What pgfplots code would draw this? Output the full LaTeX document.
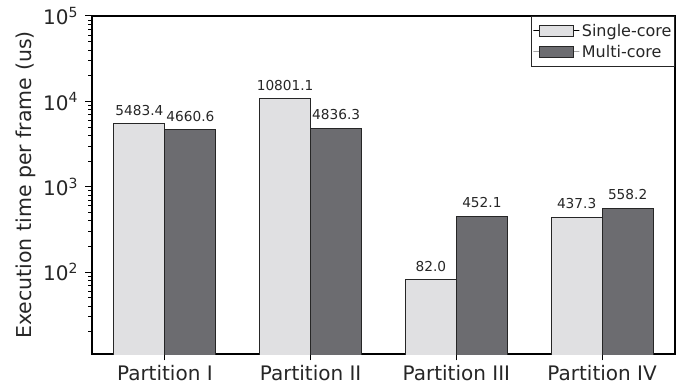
\documentclass[border=0pt]{standalone}
\usepackage{fontspec}
\setmainfont{DejaVu Sans}
\usepackage{pgfplots}
\pgfplotsset{compat=1.18}

\definecolor{singlec}{RGB}{224,224,226}
\definecolor{multic}{RGB}{108,108,112}
\definecolor{edgec}{RGB}{38,38,38}

\begin{document}
\begin{tikzpicture}
\useasboundingbox (-92pt,-35pt) rectangle (596pt,354pt);
\begin{axis}[
  at={(0,0)}, anchor=south west,
  scale only axis, width=583pt, height=338pt,
  ymode=log, log basis y=10,
  ymin=11, ymax=1e5,
  xmin=-0.5, xmax=3.5,
  xtick={0,1,2,3},
  xticklabels={Partition I,Partition II,Partition III,Partition IV},
  yticklabel={10\textsuperscript{\pgfmathparse{int(round(\tick))}\pgfmathresult}},
  tick pos=left, tick align=outside,
  major tick length=6.5pt, minor tick length=3.5pt,
  every major tick/.append style={line width=1pt, black},
  every minor tick/.append style={line width=0.8pt, black},
  axis line style={line width=1.3pt, black},
  ticklabel style={font=\fontsize{20}{24}\selectfont, text=black!85},
  yticklabel style={xshift=-4pt},
  xticklabel style={yshift=-1.5pt},
  ylabel={Execution time per frame (us)},
  ylabel style={font=\fontsize{20.5}{24}\selectfont, text=black!85},
  ybar, bar width=51pt,
  nodes near coords,
  point meta=explicit symbolic,
  every node near coord/.append style={font=\fontsize{13.7}{16}\selectfont, text=black!85, anchor=base, inner sep=0pt, yshift=8.5pt},
  legend cell align=left,
  legend style={at={(1,1)}, anchor=north east, draw=edgec, line width=1pt,
    font=\fontsize{16}{19}\selectfont, text=black!85,
    inner xsep=1pt, inner ysep=5.5pt, row sep=3.5pt},
]
\addlegendimage{legend image code/.code={\path (0pt,0pt) rectangle (46pt,0pt);
  \draw[fill=singlec,draw=edgec,line width=1.2pt] (6pt,-5.5pt) rectangle (40pt,5.5pt);}}
\addlegendentry{Single-core}
\addlegendimage{legend image code/.code={\path (0pt,0pt) rectangle (46pt,0pt);
  \draw[fill=multic,draw=edgec,line width=1.2pt] (6pt,-5.5pt) rectangle (40pt,5.5pt);}}
\addlegendentry{Multi-core}

% single-core timings
\addplot[forget plot, bar shift=-25.5pt, fill=singlec, draw=edgec, line width=1.2pt]
  coordinates {(0,5483.4) [5483.4] (1,10801.1) [10801.1] (2,82.0) [82.0] (3,437.3) [437.3]};
% multi-core timings
\addplot[forget plot, bar shift=25.5pt, fill=multic, draw=edgec, line width=1.2pt]
  coordinates {(0,4660.6) [4660.6] (1,4836.3) [4836.3] (2,452.1) [452.1] (3,558.2) [558.2]};
\end{axis}
\end{tikzpicture}
\end{document}
